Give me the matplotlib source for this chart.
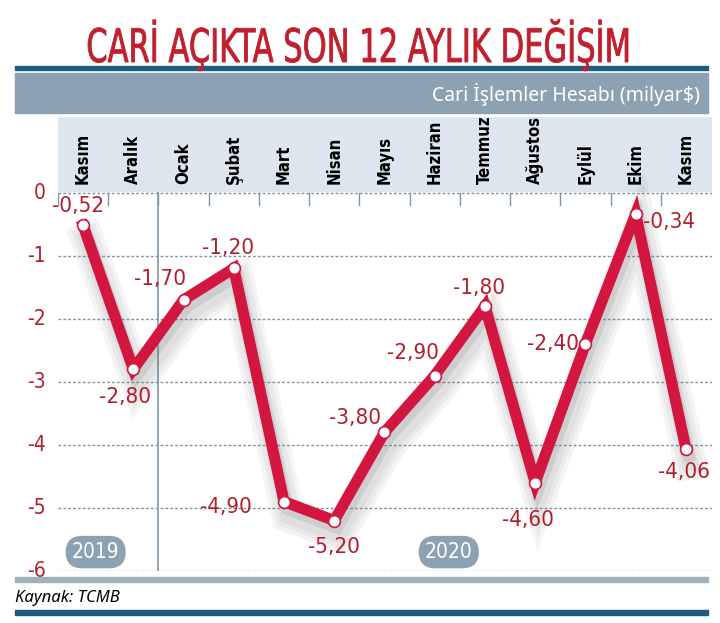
import matplotlib.pyplot as plt
import matplotlib.patheffects as pe
from matplotlib.patches import Rectangle, PathPatch
from matplotlib.textpath import TextPath
from matplotlib.font_manager import FontProperties
from matplotlib.transforms import Affine2D, IdentityTransform

# --- Data ---
title = 'CARİ AÇIKTA SON 12 AYLIK DEĞİŞİM'
months = ['Kasım', 'Aralık', 'Ocak', 'Şubat', 'Mart', 'Nisan', 'Mayıs',
          'Haziran', 'Temmuz', 'Ağustos', 'Eylül', 'Ekim', 'Kasım']
values = [-0.52, -2.80, -1.70, -1.20, -4.90, -5.20, -3.80,
          -2.90, -1.80, -4.60, -2.40, -0.34, -4.06]
yticks = [0, -1, -2, -3, -4, -5, -6]
years = ['2019', '2020']

# label offsets (points) relative to each marker
label_off = [(-4, 14), (-6, -20), (-17, 15), (-4, 15), (-42, -4), (0, -19),
             (-21, 10), (-16, 16), (-4, 13), (-5, -27), (-23, 0), (24, -6), (-1, -17)]

red = '#d2163f'
dark_red = '#b11f2e'
blue = '#1d5b85'
band = '#8ca2b3'
light = '#dde6ee'
grid_c = '#7f95a6'

cond = dict(family='DejaVu Sans', stretch='condensed')

fig = plt.figure(figsize=(7.2, 6.23), dpi=100)
H = 623.0

def fy(p):
    return 1 - p / H

# title, squeezed horizontally to look like the narrow headline font
fp = FontProperties(family='DejaVu Sans', stretch='condensed', weight='normal')
tp = TextPath((0, 0), title, size=40, prop=fp)
ext = tp.get_extents()
cap = TextPath((0, 0), 'C', size=40, prop=fp).get_extents()
sx = 540 / ext.width
sy = 35 / cap.height
tr = Affine2D().translate(-ext.x0, 0).scale(sx, sy).translate(88, H - 62) + IdentityTransform()
fig.patches.append(PathPatch(tp, transform=tr, fc='#c0202e', ec='#c0202e', lw=0.6))

# top blue line and header band
fig.patches.append(Rectangle((15 / 720, fy(70)), 693 / 720, 4 / H, transform=fig.transFigure,
                             color=blue, zorder=0))
fig.patches.append(Rectangle((15 / 720, fy(113)), 693 / 720, 40 / H, transform=fig.transFigure,
                             color=band, zorder=0))
fig.text(700 / 720, fy(94), 'Cari İşlemler Hesabı (milyar$)', color='white',
         fontsize=14, ha='right', va='center', family=['Noto Sans', 'DejaVu Sans'])
# bottom lines
fig.patches.append(Rectangle((15 / 720, fy(582)), 693 / 720, 5 / H, transform=fig.transFigure,
                             color='#9fb0bd', zorder=0))
fig.patches.append(Rectangle((15 / 720, fy(615)), 693 / 720, 5 / H, transform=fig.transFigure,
                             color=blue, zorder=0))
fig.text(15 / 720, fy(598), 'Kaynak: TCMB', fontsize=12, style='italic',
         ha='left', va='center', family=['Noto Sans', 'DejaVu Sans'])

ax = fig.add_axes([58 / 720, fy(571), 654 / 720, (571 - 117) / H])
ax.set_xlim(-0.5, 12.52)
ax.set_ylim(-6, 1.2)
ax.axis('off')

# month header band
ax.axhspan(0.02, 1.2, color=light, zorder=0)
for i, m in enumerate(months):
    ax.text(i, 0.13, m, rotation=90, ha='center', va='bottom', fontsize=12,
            fontweight='bold', **cond)

# grid
for t in yticks:
    ax.axhline(t, color=grid_c, lw=1, ls=(0, (2, 1.5)), zorder=1)
    ax.text(-0.75, t, str(t), color=dark_red, fontsize=15, ha='right', va='center',
            clip_on=False, **cond)
for i in range(len(months)):
    ax.plot([i - 0.5, i - 0.5], [0, -0.2], color=grid_c, lw=1, zorder=1)
ax.plot([1.5, 1.5], [0, -6], color=grid_c, lw=1.2, zorder=1)

# year badges
for xb, yr in zip([0.25, 7.28], years):
    ax.text(xb, -5.7, yr, color='white', fontsize=15, ha='center', va='center',
            bbox=dict(boxstyle='round,pad=0.3,rounding_size=0.8', fc=band, ec='none'),
            **cond)

# line with a soft shadow
x = list(range(len(values)))
shadow = [pe.SimpleLineShadow(offset=(3, -10), shadow_color='#666666', alpha=0.07, linewidth=w)
          for w in (24, 18, 12)]
shadow.append(pe.SimpleLineShadow(offset=(2, -5), shadow_color='#666666', alpha=0.14, linewidth=9))
ax.plot(x, values, color=red, lw=8, solid_joinstyle='miter', zorder=3,
        path_effects=shadow + [pe.Normal()])
ax.plot(x, values, ls='none', marker='o', ms=8.5, mfc='white', mec=red, mew=1.2, zorder=4)

for i, v in enumerate(values):
    ax.annotate(f'{v:.2f}'.replace('.', ','), (i, v), xytext=label_off[i],
                textcoords='offset points', ha='center', va='center', color=dark_red,
                fontsize=16, zorder=5, **cond)

fig.savefig('out.png', dpi=100)
